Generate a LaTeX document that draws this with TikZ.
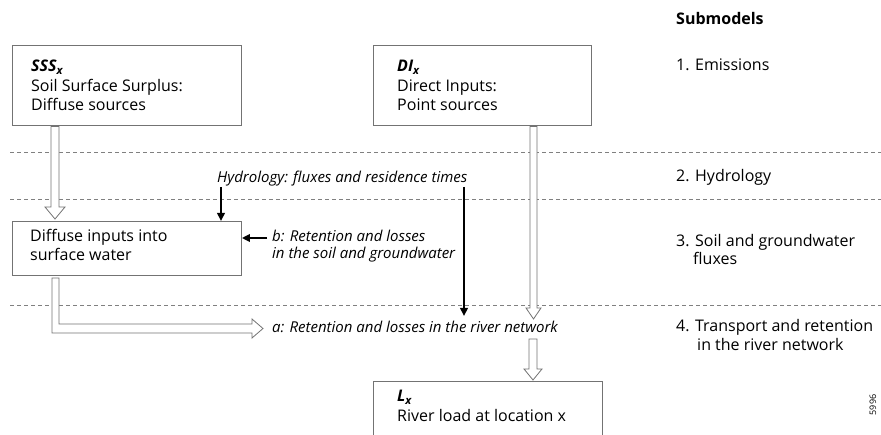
\documentclass[tikz,border=0pt]{standalone}
\usepackage{fontspec}
\setmainfont{Open Sans}
\usetikzlibrary{arrows.meta,calc}
\definecolor{linegray}{gray}{0.45}
\definecolor{dashgray}{gray}{0.5}
\begin{document}
\begin{tikzpicture}[x=1pt,y=-1pt,
  box/.style={draw=linegray, line width=0.9pt, rectangle, inner sep=0pt, anchor=north west},
  txt/.style={anchor=base west, inner sep=0pt, font=\fontsize{16}{19}\selectfont},
  itx/.style={anchor=base west, inner sep=0pt, font=\fontsize{15}{18}\selectfont\itshape},
  sepline/.style={draw=dashgray, line width=0.7pt, dash pattern=on 4pt off 3pt},
  hollow/.style={draw=linegray, fill=white, line width=0.8pt, line join=miter},
  blk/.style={draw=black, line width=2pt, -{Triangle[length=8pt,width=7.5pt]}}
]
\useasboundingbox (0,0) rectangle (881,435);
\clip (0,0) rectangle (881,435);

% separators
\draw[sepline] (10,152) -- (881,152);
\draw[sepline] (10,199) -- (881,199);
\draw[sepline] (10,305) -- (881,305);

% boxes
\node[box, minimum width=229pt, minimum height=80pt] (sss) at (12,45) {};
\node[box, minimum width=218pt, minimum height=80pt] (di) at (373,45) {};
\node[box, minimum width=229pt, minimum height=54pt] (diff) at (12,221) {};
\node[box, minimum width=229pt, minimum height=70pt] (lx) at (373,381) {};

% box texts
\node[txt] (sssa) at (31,71.5) {\bfseries\itshape SSS\textsubscript{x}};
\node[txt] (sssb) at (31,91.5) {Soil Surface Surplus:};
\node[txt] (sssc) at (31,110.5) {Diffuse sources};
\node[txt] (dia) at (397,71.5) {\bfseries\itshape DI\textsubscript{x}};
\node[txt] (dib) at (397,91.5) {Direct Inputs:};
\node[txt] (dic) at (397,110.5) {Point sources};
\node[txt] (diffa) at (30,241.5) {Diffuse inputs into};
\node[txt] (diffb) at (30,260.5) {surface water};
\node[txt] (lxa) at (397,402) {\bfseries\itshape L\textsubscript{x}};
\node[txt] (lxb) at (397,421.5) {River load at location x};

% italic labels
\node[itx] (hyd) at (217,182.5) {Hydrology: fluxes and residence times};
\node[itx] (bt1) at (272,241.5) {b: Retention and losses};
\node[itx] (bt2) at (272,259) {in the soil and groundwater};
\node[itx] (at) at (272,332.5) {a: Retention and losses in the river network};

% right column
\node[txt, font=\fontsize{16}{19}\selectfont\bfseries] (sub) at (676,25) {Submodels};
\node[txt] (s1) at (676,71) {1. Emissions};
\node[txt] (s2) at (676,181.5) {2. Hydrology};
\node[txt] (s3a) at (676,246.5) {3. Soil and groundwater};
\node[txt] (s3b) at (693,264.5) {fluxes};
\node[txt] (s4a) at (676,332) {4. Transport and retention};
\node[txt] (s4b) at (697,350.5) {in the river network};

\node[inner sep=0pt, rotate=90, font=\fontsize{9}{10}\selectfont] (num) at (873,405) {5996};

% hollow arrows
\draw[hollow] (51,126.5) -- (59,126.5) -- (59,207) -- (65,207) -- (55,219) -- (45,207) -- (51,207) -- cycle;
\draw[hollow] (530,126.5) -- (537,126.5) -- (537,308) -- (541,308) -- (533.5,319) -- (526,308) -- (530,308) -- cycle;
\draw[hollow] (529,339) -- (537,339) -- (537,369) -- (542,369) -- (533,380) -- (524,369) -- (529,369) -- cycle;
\draw[hollow] (52,278) -- (59,278) -- (59,324) -- (252,324) -- (252,319) -- (263,328.5) -- (252,338) -- (252,333) -- (52,333) -- cycle;

% black arrows
\coordinate (h1) at (221,187);
\coordinate (h2) at (464,187);
\coordinate (h2e) at (464,316);
\coordinate (b1) at (267,238);
\draw[blk] (h1) -- (h1 |- diff.north);
\draw[blk] (h2) -- (h2e);
\draw[blk] (b1) -- (b1 -| diff.east);
\end{tikzpicture}
\end{document}
